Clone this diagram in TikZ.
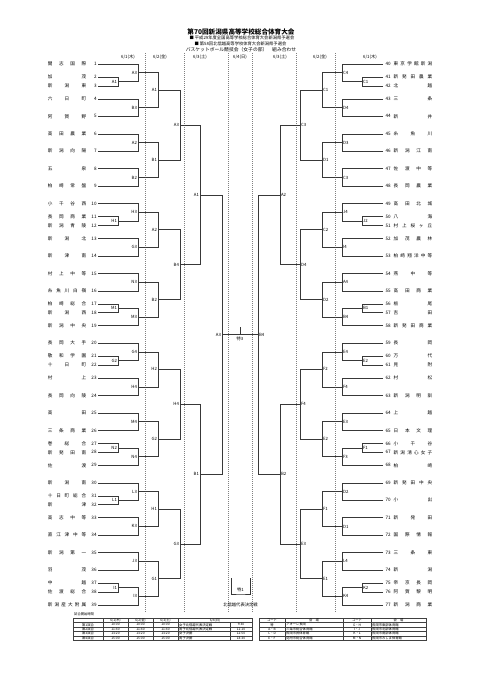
\documentclass[tikz,border=0pt]{standalone}
\usepackage{fontspec}
\setmainfont{Noto Sans CJK JP}
\usetikzlibrary{calc}
\def\spreadit#1{\spreadA#1\relax}
\def\spreadA#1#2{#1\ifx\relax#2\else\hfill\expandafter\spreadA\expandafter#2\fi}
\newcommand\teamL[3]{\pgfmathsetmacro\yy{64+17.45*(#1)}%
  \node[tn,anchor=east] (nL#2) at (86.5,\yy) {\makebox[38.5pt][s]{\spreadit{#3}}};%
  \node[tn,anchor=east] (kL#2) at (96.8,\yy) {#2};%
  \coordinate (t#2) at (98,\yy);}
\newcommand\teamR[3]{\pgfmathsetmacro\yy{64+17.45*(#1)}%
  \node[tn,anchor=west] (nR#2) at (393.5,\yy) {\makebox[38.5pt][s]{\spreadit{#3}}};%
  \node[tn,anchor=west] (kR#2) at (385.3,\yy) {#2};%
  \coordinate (t#2) at (383,\yy);}
\newcommand\match[7]{%
  \coordinate (tmp) at ($(#3)!0.5!(#4)$);%
  \coordinate (#1) at (#2,0 |- tmp);%
  \draw[br] (#3) -| (#1);%
  \draw[br] (#4) -| (#1);%
  \node[lab,anchor=#6] (lb#1) at ([xshift=#7]#1) {#5};}
\newcommand\mL[5]{\match{#1}{#2}{#3}{#4}{#5}{east}{-0.9}}
\newcommand\mR[5]{\match{#1}{#2}{#3}{#4}{#5}{west}{0.9}}
\begin{document}
\begin{tikzpicture}[x=1pt,y=-1pt,
  br/.style={draw=black!78,line width=0.6pt},
  dsh/.style={draw=black!50,line width=0.35pt,dash pattern=on 1pt off 1pt},
  tn/.style={inner sep=0pt,font=\fontsize{4.6}{5}\selectfont},
  lab/.style={inner sep=0pt,font=\fontsize{4.3}{5}\selectfont},
  dt/.style={inner sep=0pt,font=\fontsize{4.3}{5}\selectfont},
  tb/.style={draw=black!75,line width=0.3pt},
  tt/.style={inner sep=0pt,font=\fontsize{3.3}{4}\selectfont},
]
\useasboundingbox (0,0) rectangle (481,680);
\fill[white] (0,0) rectangle (481,680);
% header
\node[inner sep=0pt,font=\fontsize{6.6}{7}\selectfont\bfseries] (title) at (241,31.5) {第70回新潟県高等学校総合体育大会};
\node[inner sep=0pt,font=\fontsize{4.3}{5}\selectfont] (sub1) at (242,38) {■ 平成29年度全国高等学校総合体育大会新潟県予選会};
\node[inner sep=0pt,font=\fontsize{4.3}{5}\selectfont] (sub2) at (240.5,43.5) {■ 第58回北信越高等学校体育大会新潟県予選会};
\node[inner sep=0pt,font=\fontsize{4.8}{5}\selectfont] (sub3) at (241,50) {バスケットボール競技会（女子の部）　組み合わせ};
% dates
\node[dt] (d1) at (128,57) {6/1(木)};
\node[dt] (d2) at (160,57) {6/2(金)};
\node[dt] (d3) at (200,57) {6/3(土)};
\node[dt] (d4) at (240,57) {6/4(日)};
\node[dt] (d5) at (280,57) {6/3(土)};
\node[dt] (d6) at (320,57) {6/2(金)};
\node[dt] (d7) at (370,57) {6/1(木)};
\foreach \xx in {145,184,228,252,296,335} {\draw[dsh] (\xx,53) -- (\xx,612);}
% left teams
\teamL{0}{1}{開志国際}
\teamL{1-0.255}{2}{加茂}
\teamL{1+0.255}{3}{新潟東}
\teamL{2}{4}{六日町}
\teamL{3}{5}{阿賀野}
\teamL{4}{6}{高田農業}
\teamL{5}{7}{新潟向陽}
\teamL{6}{8}{五泉}
\teamL{7}{9}{柏崎常盤}
\teamL{8}{10}{小千谷西}
\teamL{9-0.255}{11}{長岡商業}
\teamL{9+0.255}{12}{新潟青陵}
\teamL{10}{13}{新潟北}
\teamL{11}{14}{新津南}
\teamL{12}{15}{村上中等}
\teamL{13}{16}{糸魚川白嶺}
\teamL{14-0.255}{17}{柏崎総合}
\teamL{14+0.255}{18}{新潟西}
\teamL{15}{19}{新潟中央}
\teamL{16}{20}{長岡大手}
\teamL{17-0.255}{21}{敬和学園}
\teamL{17+0.255}{22}{十日町}
\teamL{18}{23}{村上}
\teamL{19}{24}{長岡向陵}
\teamL{20}{25}{高田}
\teamL{21}{26}{三条商業}
\teamL{22-0.255}{27}{巻総合}
\teamL{22+0.255}{28}{新発田南}
\teamL{23}{29}{佐渡}
\teamL{24}{30}{新潟南}
\teamL{25-0.255}{31}{十日町総合}
\teamL{25+0.255}{32}{新津}
\teamL{26}{33}{高志中等}
\teamL{27}{34}{直江津中等}
\teamL{28}{35}{新潟第一}
\teamL{29}{36}{羽茂}
\teamL{30-0.255}{37}{中越}
\teamL{30+0.255}{38}{佐渡総合}
\teamL{31}{39}{新潟産大附属}
% right teams
\teamR{0}{40}{東京学館新潟}
\teamR{1-0.255}{41}{新発田農業}
\teamR{1+0.255}{42}{北越}
\teamR{2}{43}{三条}
\teamR{3}{44}{新井}
\teamR{4}{45}{糸魚川}
\teamR{5}{46}{新潟江南}
\teamR{6}{47}{佐渡中等}
\teamR{7}{48}{長岡農業}
\teamR{8}{49}{高田北城}
\teamR{9-0.255}{50}{八海}
\teamR{9+0.255}{51}{村上桜ヶ丘}
\teamR{10}{52}{加茂農林}
\teamR{11}{53}{柏崎翔洋中等}
\teamR{12}{54}{燕中等}
\teamR{13}{55}{高田商業}
\teamR{14-0.255}{56}{栃尾}
\teamR{14+0.255}{57}{吉田}
\teamR{15}{58}{新発田商業}
\teamR{16}{59}{長岡}
\teamR{17-0.255}{60}{万代}
\teamR{17+0.255}{61}{見附}
\teamR{18}{62}{村松}
\teamR{19}{63}{新潟明訓}
\teamR{20}{64}{上越}
\teamR{21}{65}{日本文理}
\teamR{22-0.255}{66}{小千谷}
\teamR{22+0.255}{67}{新潟清心女子}
\teamR{23}{68}{柏崎}
\teamR{24}{69}{新発田中央}
\teamR{25}{70}{小出}
\teamR{26}{71}{新発田}
\teamR{27}{72}{国際情報}
\teamR{28}{73}{三条東}
\teamR{29}{74}{新潟}
\teamR{30-0.255}{75}{帝京長岡}
\teamR{30+0.255}{76}{阿賀黎明}
\teamR{31}{77}{新潟商業}
% left prelims
\mL{pA1}{118}{t2}{t3}{A1}
\mL{pH1}{118}{t11}{t12}{H1}
\mL{pM1}{118}{t17}{t18}{M1}
\mL{pG2}{118}{t21}{t22}{G2}
\mL{pN2}{118}{t27}{t28}{N2}
\mL{pL1}{118}{t31}{t32}{L1}
\mL{pI1}{118}{t37}{t38}{I1}
% left round 1
\mL{a1}{138}{t1}{pA1}{A3}
\mL{a2}{138}{t4}{t5}{B3}
\mL{a3}{138}{t6}{t7}{A2}
\mL{a4}{138}{t8}{t9}{B2}
\mL{a5}{138}{t10}{pH1}{H3}
\mL{a6}{138}{t13}{t14}{G3}
\mL{a7}{138}{t15}{t16}{N3}
\mL{a8}{138}{pM1}{t19}{M3}
\mL{a9}{138}{t20}{pG2}{G4}
\mL{a10}{138}{t23}{t24}{H4}
\mL{a11}{138}{t25}{t26}{M4}
\mL{a12}{138}{pN2}{t29}{N4}
\mL{a13}{138}{t30}{pL1}{L3}
\mL{a14}{138}{t33}{t34}{K3}
\mL{a15}{138}{t35}{t36}{J3}
\mL{a16}{138}{pI1}{t39}{I3}
% left round 2
\mL{b1}{158}{a1}{a2}{A1}
\mL{b2}{158}{a3}{a4}{B1}
\mL{b3}{158}{a5}{a6}{A2}
\mL{b4}{158}{a7}{a8}{B2}
\mL{b5}{158}{a9}{a10}{H2}
\mL{b6}{158}{a11}{a12}{G2}
\mL{b7}{158}{a13}{a14}{H1}
\mL{b8}{158}{a15}{a16}{G1}
\mL{c1}{180}{b1}{b2}{A3}
\mL{c2}{180}{b3}{b4}{B4}
\mL{c3}{180}{b5}{b6}{H4}
\mL{c4}{180}{b7}{b8}{G3}
\mL{dd1}{200}{c1}{c2}{A1}
\mL{dd2}{200}{c3}{c4}{B1}
\mL{e1}{222}{dd1}{dd2}{A3}
% right prelims
\mR{pC1}{362}{t41}{t42}{C1}
\mR{pJ2}{362}{t50}{t51}{J2}
\mR{pB1}{362}{t56}{t57}{B1}
\mR{pE2}{362}{t60}{t61}{E2}
\mR{pF1}{362}{t66}{t67}{F1}
\mR{pK2}{362}{t75}{t76}{K2}
% right round 1
\mR{ra1}{342}{t40}{pC1}{C4}
\mR{ra2}{342}{t43}{t44}{D4}
\mR{ra3}{342}{t45}{t46}{D3}
\mR{ra4}{342}{t47}{t48}{C3}
\mR{ra5}{342}{t49}{pJ2}{J4}
\mR{ra6}{342}{t52}{t53}{I4}
\mR{ra7}{342}{t54}{t55}{A4}
\mR{ra8}{342}{pB1}{t58}{B4}
\mR{ra9}{342}{t59}{pE2}{E4}
\mR{ra10}{342}{t62}{t63}{F4}
\mR{ra11}{342}{t64}{t65}{E3}
\mR{ra12}{342}{pF1}{t68}{F3}
\mR{ra13}{342}{t69}{t70}{D2}
\mR{ra14}{342}{t71}{t72}{D1}
\mR{ra15}{342}{t73}{t74}{L4}
\mR{ra16}{342}{pK2}{t77}{K4}
% right round 2
\mR{rb1}{322}{ra1}{ra2}{C1}
\mR{rb2}{322}{ra3}{ra4}{D1}
\mR{rb3}{322}{ra5}{ra6}{C2}
\mR{rb4}{322}{ra7}{ra8}{D2}
\mR{rb5}{322}{ra9}{ra10}{F2}
\mR{rb6}{322}{ra11}{ra12}{E2}
\mR{rb7}{322}{ra13}{ra14}{F1}
\mR{rb8}{322}{ra15}{ra16}{E1}
\mR{rc1}{300}{rb1}{rb2}{C3}
\mR{rc2}{300}{rb3}{rb4}{D4}
\mR{rc3}{300}{rb5}{rb6}{F4}
\mR{rc4}{300}{rb7}{rb8}{E3}
\mR{rd1}{280}{rc1}{rc2}{A2}
\mR{rd2}{280}{rc3}{rc4}{B2}
\mR{re1}{258}{rd1}{rd2}{B4}
% final
\draw[br] (e1) -- (re1);
\coordinate (fin) at ($(e1)!0.5!(re1)$);
\coordinate (finT) at ([yshift=7]fin);
\draw[br] (fin) -- (finT);
\node[lab,anchor=north] (lbfin) at ([yshift=-2]fin) {特3};
% representative decision block
\coordinate (s1a) at (231,578);
\coordinate (s1b) at (250,578);
\coordinate (s1m) at (240.5,594);
\draw[br] (s1a) |- (s1m) -| (s1b);
\node[lab] (lbs1) at (240.5,590) {特1};
\node[lab] (hsn) at (240.5,605) {北信越代表決定戦};
% table 1
\node[tt,anchor=west] (t1title) at (74,614) {試合開始時間};
\draw[tb] (73,618) rectangle (252,640.2);
\foreach \yy in {622.6,627,631.4,635.8} {\draw[tb] (73,\yy) -- (252,\yy);}
\foreach \xx in {103,128,153,178} {\draw[tb] (\xx,618) -- (\xx,640.2);}
\draw[tb] (230,622.6) -- (230,640.2);
\node[tt] (h11) at (115.5,620.3) {6/1(木)};
\node[tt] (h12) at (140.5,620.3) {6/2(金)};
\node[tt] (h13) at (165.5,620.3) {6/3(土)};
\node[tt] (h14) at (215,620.3) {6/4(日)};
\foreach \r/\g/\tm/\ev/\tf [count=\i] in {1/第1試合/10:00/女子北信越代表決定戦/9:30,2/第2試合/11:40/男子北信越代表決定戦/11:10,3/第3試合/13:20/女子決勝/12:50,4/第4試合/15:00/男子決勝/14:30}{
  \pgfmathsetmacro\ry{622.6+4.4*\r-2.2}
  \node[tt] (g\i) at (88,\ry) {\g};
  \node[tt] (ta\i) at (115.5,\ry) {\tm};
  \node[tt] (tb\i) at (140.5,\ry) {\tm};
  \node[tt] (tc\i) at (165.5,\ry) {\tm};
  \node[tt,anchor=west] (te\i) at (179,\ry) {\ev};
  \node[tt] (tf\i) at (241,\ry) {\tf};
}
% table 2
\draw[tb] (259,618) rectangle (426,640.2);
\foreach \yy in {622.6,627,631.4,635.8} {\draw[tb] (259,\yy) -- (426,\yy);}
\foreach \xx in {285,343,371} {\draw[tb] (\xx,618) -- (\xx,640.2);}
\node[tt] (v1) at (272,620.3) {コート};
\node[tt] (v2) at (314,620.3) {会\quad 場};
\node[tt] (v3) at (357,620.3) {コート};
\node[tt] (v4) at (398.5,620.3) {会\quad 場};
\foreach \r/\ca/\va/\cb/\vb in {1/特/アオーレ長岡/G・H/長岡市東部体育館,2/A・B/三条市総合体育館/I・J/長岡市北部体育館,3/C・D/長岡市民体育館/K・L/長岡市南部体育館,4/E・F/見附市総合体育館/M・N/長岡市みしま体育館}{
  \pgfmathsetmacro\ry{622.6+4.4*\r-2.2}
  \node[tt] (ca\r) at (272,\ry) {\ca};
  \node[tt,anchor=west] (va\r) at (286,\ry) {\va};
  \node[tt] (cb\r) at (357,\ry) {\cb};
  \node[tt,anchor=west] (vb\r) at (372,\ry) {\vb};
}
\end{tikzpicture}
\end{document}
